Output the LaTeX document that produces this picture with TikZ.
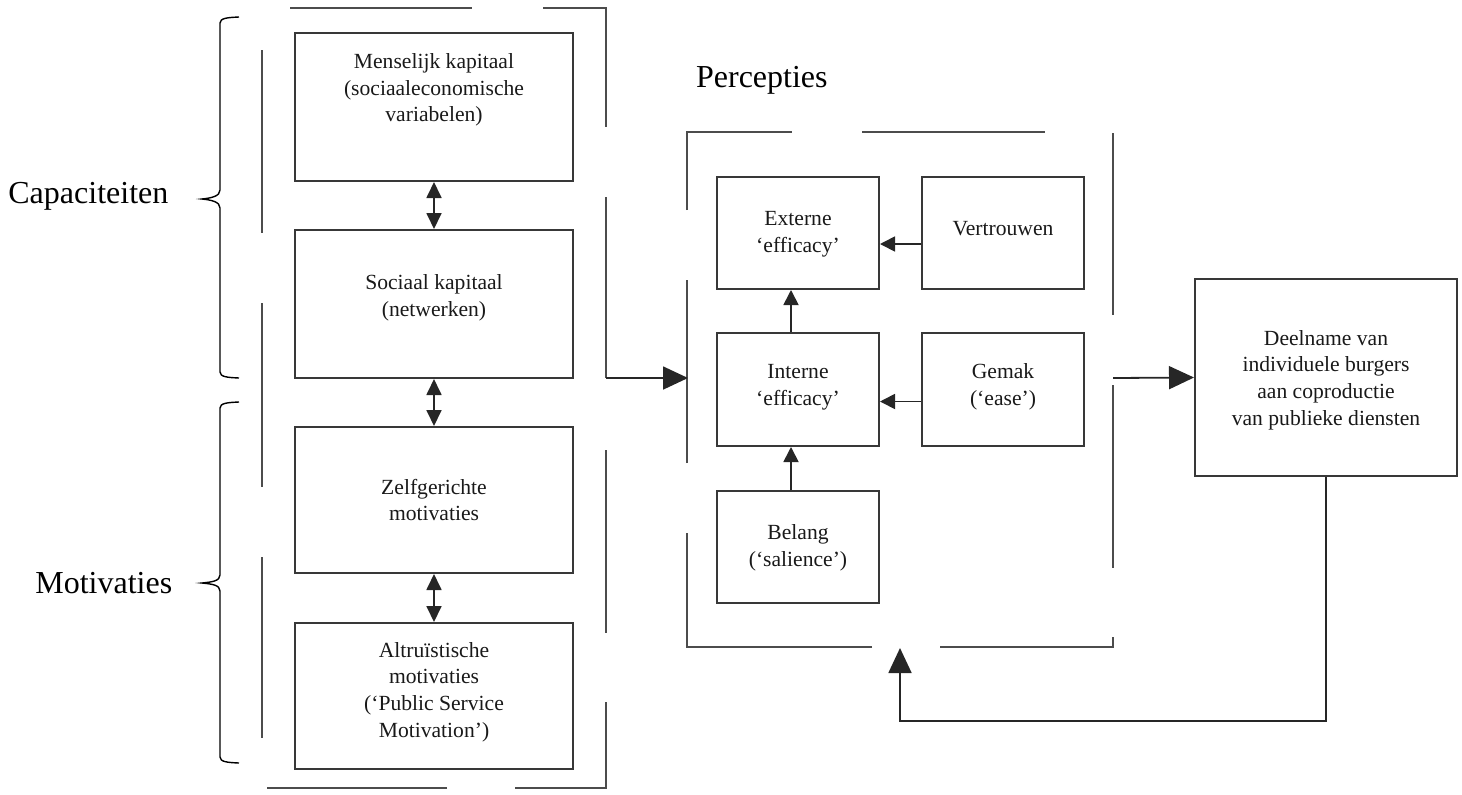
\documentclass[tikz,border=0pt]{standalone}
\usepackage{fontspec}
\newfontfamily\labfont{Liberation Serif}
\usetikzlibrary{arrows.meta,calc}
\begin{document}
\begin{tikzpicture}[x=0.5pt,y=-0.5pt,
 box/.style={draw=black!78,line width=1pt,inner sep=0pt},
 txt/.style={align=center,font=\labfont\fontsize{10.8}{13.3}\selectfont,inner sep=0pt,text=black!90},
 lab/.style={font=\labfont\fontsize{16}{19}\selectfont,inner sep=0pt},
 framed/.style={draw=black!70,line width=1pt},
 big/.style={draw=black!85,-{Triangle[length=12.5pt,width=11.5pt]},line width=0.9pt},
 dbl/.style={draw=black!85,{Triangle[length=8pt,width=7.5pt]}-{Triangle[length=8pt,width=7.5pt]},line width=0.9pt},
 sml/.style={draw=black!85,-{Triangle[length=7.5pt,width=7.5pt]},line width=0.9pt},
 brace/.style={draw=black,line width=0.7pt}]
\useasboundingbox (0,0) rectangle (1462,794);

% labels
\node[lab,anchor=base west] (lcap) at (8,203) {Capaciteiten};
\node[lab,anchor=base west] (lmot) at (35,593) {Motivaties};
\node[lab,anchor=base east] (lper) at (828,87) {Percepties};

% braces
\draw[brace] (239,17) .. controls (228,17.5) and (220,18) .. (220,23) -- (220,190) .. controls (220,196) and (212,198) .. (202,199) .. controls (212,200) and (220,202) .. (220,208) -- (220,372) .. controls (220,377) and (228,377.5) .. (239,378);
\draw[brace] (239,402) .. controls (228,402.5) and (220,403) .. (220,408) -- (220,575) .. controls (220,581) and (212,582) .. (202,583) .. controls (212,584) and (220,585) .. (220,591) -- (220,757) .. controls (220,762) and (228,762.5) .. (239,763);

% left frame
\draw[framed] (290,8) -- (472,8);
\draw[framed] (543,8) -- (606,8) -- (606,127);
\draw[framed] (606,197) -- (606,378);
\draw[framed] (606,450) -- (606,633);
\draw[framed] (606,702) -- (606,788) -- (515,788);
\draw[framed] (447,788) -- (267,788);
\draw[framed] (262,50) -- (262,233);
\draw[framed] (262,303) -- (262,487);
\draw[framed] (262,557) -- (262,738);

% middle frame
\draw[framed] (687,210) -- (687,132) -- (792,132);
\draw[framed] (862,132) -- (1045,132);
\draw[framed] (1113,133) -- (1113,315);
\draw[framed] (1113,385) -- (1113,568);
\draw[framed] (1113,637) -- (1113,647) -- (940,647);
\draw[framed] (872,647) -- (687,647) -- (687,533);
\draw[framed] (687,463) -- (687,280);

% left boxes
\node[box,minimum width=139pt,minimum height=74pt] (b1) at (434,107) {};
\node[box,minimum width=139pt,minimum height=74pt] (b2) at (434,304) {};
\node[box,minimum width=139pt,minimum height=73pt] (b3) at (434,500) {};
\node[box,minimum width=139pt,minimum height=73pt] (b4) at (434,696) {};
\node[txt] (t1) at (434,90) {Menselijk kapitaal\\(sociaaleconomische\\variabelen)};
\node[txt] (t2) at (434,298) {Sociaal kapitaal\\(netwerken)};
\node[txt] (t3) at (434,500) {Zelfgerichte\\motivaties};
\node[txt] (t4) at (434,692) {Altruïstische\\motivaties\\(‘Public Service\\Motivation’)};
\draw[dbl] (b1.south) -- (b2.north);
\draw[dbl] (b2.south) -- (b3.north);
\draw[dbl] (b3.south) -- (b4.north);

% middle boxes
\node[box,minimum width=81pt,minimum height=56pt] (ext) at (798,233) {};
\node[box,minimum width=81pt,minimum height=56pt] (ver) at (1003,233) {};
\node[box,minimum width=81pt,minimum height=56.5pt] (int) at (798,389.5) {};
\node[box,minimum width=81pt,minimum height=56.5pt] (gem) at (1003,389.5) {};
\node[box,minimum width=81pt,minimum height=56pt] (bel) at (798,547) {};
\node[txt] (te) at (798,234) {Externe\\‘efficacy’};
\node[txt] (tv) at (1003,229) {Vertrouwen};
\node[txt] (ti) at (798,387) {Interne\\‘efficacy’};
\node[txt] (tg) at (1003,387) {Gemak\\(‘ease’)};
\node[txt] (tb) at (798,548) {Belang\\(‘salience’)};
\draw[sml] ($(ver.west)+(0,11)$) -- ($(ext.east)+(0,11)$);
\draw[sml] ($(gem.west)+(0,12)$) -- ($(int.east)+(0,12)$);
\draw[sml] ($(int.north)+(-7,0)$) -- ($(ext.south)+(-7,0)$);
\draw[sml] ($(bel.north)+(-7,0)$) -- ($(int.south)+(-7,0)$);

% right box
\node[box,minimum width=131pt,minimum height=98.5pt] (rb) at (1326,377.5) {};
\node[txt] (tr) at (1326,380) {Deelname van\\individuele burgers\\aan coproductie\\van publieke diensten};

% connectors between frames
\coordinate (lf) at (606,378);
\coordinate (mf) at (688,378);
\coordinate (mfr) at (1113,378);
\coordinate (fb) at (900,648);
\draw[big] (lf) -- (mf);
\draw[big] (mfr) -- (rb.west);
\draw[big] (rb.south) -- ++(0,244) -| (fb);
\end{tikzpicture}
\end{document}
